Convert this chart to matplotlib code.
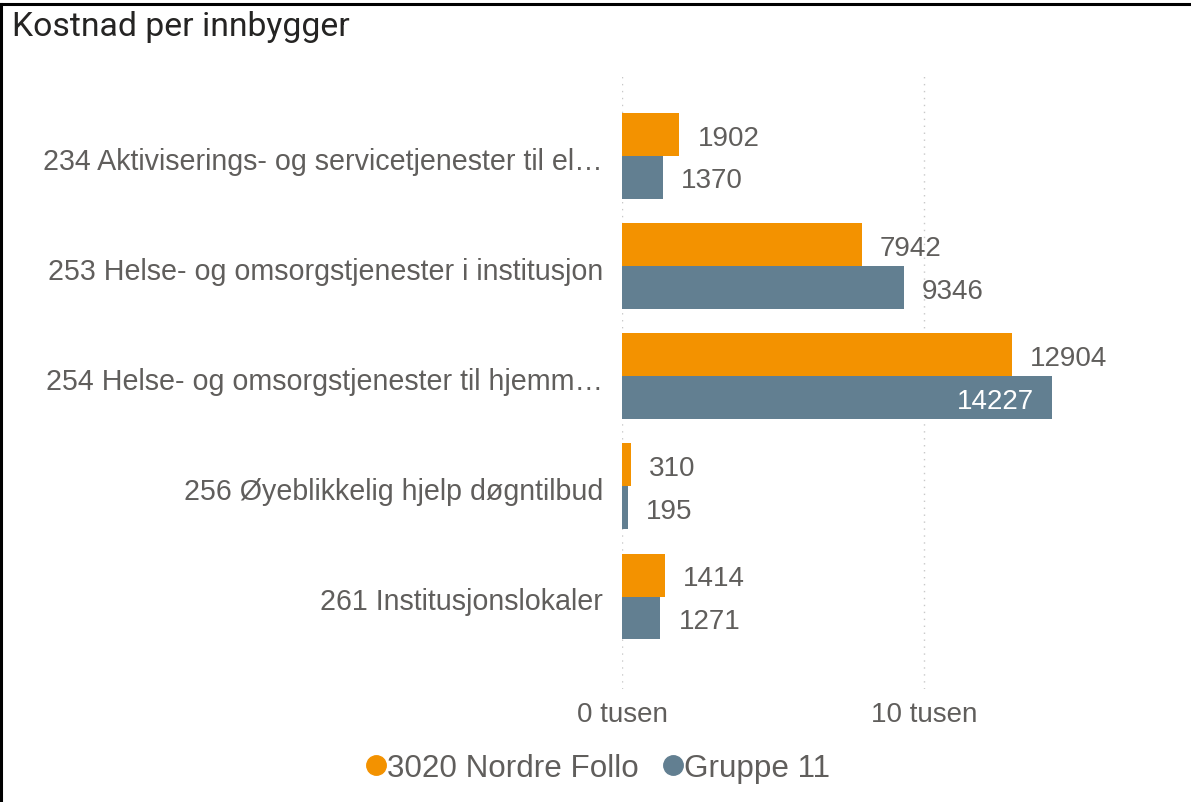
import matplotlib
matplotlib.use("Agg")
import matplotlib.pyplot as plt
from matplotlib.lines import Line2D

categories = [
    "234 Aktiviserings- og servicetjenester til el…",
    "253 Helse- og omsorgstjenester i institusjon",
    "254 Helse- og omsorgstjenester til hjemm…",
    "256 Øyeblikkelig hjelp døgntilbud",
    "261 Institusjonslokaler",
]
series_names = ["3020 Nordre Follo", "Gruppe 11"]
nordre_follo = [1902, 7942, 12904, 310, 1414]
gruppe_11 = [1370, 9346, 14227, 195, 1271]
xticks = [0, 10000]
xtick_labels = ["0 tusen", "10 tusen"]

ORANGE = "#F39200"
BLUE = "#627F91"
GRAY = "#605E5C"
FONT = "Liberation Sans"

W, H = 1191, 803
fig = plt.figure(figsize=(W / 100, H / 100), dpi=100)

# axes in pixel coordinates
ax_left, ax_right, ax_top, ax_bottom = 622, 1150, 75, 690
ax = fig.add_axes([ax_left / W, 1 - ax_bottom / H, (ax_right - ax_left) / W, (ax_bottom - ax_top) / H])

xmax = (ax_right - ax_left) / 0.0302
bh = 0.39
ys = list(range(len(categories)))
ax.barh([y - bh / 2 for y in ys], nordre_follo, height=bh, color=ORANGE)
ax.barh([y + bh / 2 for y in ys], gruppe_11, height=bh, color=BLUE)
ax.set_xlim(0, xmax)
ax.set_ylim(4.84, -0.745)

off = 18 / 0.0302
dy = 0.027
for series, sign in ((nordre_follo, -1), (gruppe_11, 1)):
    for y, v in zip(ys, series):
        yy = y + sign * bh / 2 + dy
        wlab = len(str(v)) * 20 / 0.0302
        if v + off + wlab > xmax:
            ax.text(v - off, yy, str(v), ha="right", va="center", color="white",
                    fontsize=20, family=FONT)
        else:
            ax.text(v + off, yy, str(v), ha="left", va="center", color=GRAY,
                    fontsize=20, family=FONT)

ax.set_yticks([y + 0.015 for y in ys])
ax.set_yticklabels(categories, fontsize=20.6, family=FONT, color=GRAY)
ax.set_xticks(xticks)
ax.set_xticklabels(xtick_labels, fontsize=20, family=FONT, color=GRAY)
ax.tick_params(axis="both", length=0)
ax.tick_params(axis="y", pad=13.7)
ax.tick_params(axis="x", pad=8.5)
for s in ax.spines.values():
    s.set_visible(False)
ax.set_axisbelow(True)
ax.grid(axis="x", linestyle=(0, (1, 4)), color="#C8C8C8", linewidth=1)

fig.text(12 / W, 1 - 27 / H, "Kostnad per innbygger", fontsize=24.3, family="Roboto",
         color="#252423", va="center", ha="left")

handles = [Line2D([], [], marker="o", linestyle="", color=c, markersize=14)
           for c in (ORANGE, BLUE)]
fig.legend(handles, series_names, loc="center", bbox_to_anchor=(595 / W, 1 - 769 / H),
           ncol=2, frameon=False, handletextpad=-0.15, columnspacing=0.6,
           prop={"family": FONT, "size": 22.6}, labelcolor=GRAY, handlelength=1.0)

# border: top and left
fig.add_artist(Line2D([0, 1], [1 - 5 / H, 1 - 5 / H], transform=fig.transFigure, color="black", linewidth=2.2))
fig.add_artist(Line2D([1 / W, 1 / W], [0, 1 - 5 / H], transform=fig.transFigure, color="black", linewidth=2.2))

fig.savefig("out.png", dpi=100)
